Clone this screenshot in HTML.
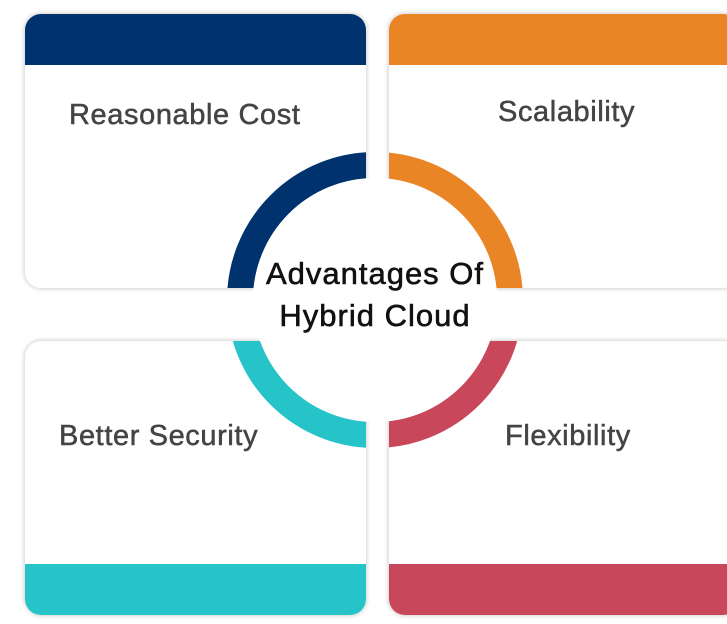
<!DOCTYPE html>
<html><head><style>
html,body{margin:0;padding:0;background:#fff;width:727px;height:624px;overflow:hidden;font-family:"Liberation Sans",sans-serif;position:relative}
.card{position:absolute;background:#fff;border-radius:16px;overflow:hidden;box-shadow:0 0 4px 1px rgba(0,0,0,0.18)}
.bar{position:absolute;left:0;right:0;height:51px}
.lbl{position:absolute;font-size:29px;color:#444;white-space:nowrap;letter-spacing:0.6px;-webkit-text-stroke:0.5px #444}
</style></head><body>
<div class="card" style="left:25px;top:14px;width:341px;height:274px"><div class="bar" style="top:0;background:#00336e"></div></div>
<div class="card" style="left:389px;top:14px;width:350px;height:274px"><div class="bar" style="top:0;background:#ea8526"></div></div>
<div class="card" style="left:25px;top:341px;width:341px;height:274px"><div class="bar" style="bottom:0;background:#26c3c8"></div></div>
<div class="card" style="left:389px;top:341px;width:350px;height:274px"><div class="bar" style="bottom:0;background:#c9475a"></div></div>
<svg width="727" height="624" style="position:absolute;left:0;top:0">
<defs>
<clipPath id="tl"><rect x="25" y="14" width="341" height="274"/></clipPath>
<clipPath id="tr"><rect x="389" y="14" width="350" height="274"/></clipPath>
<clipPath id="bl"><rect x="25" y="341" width="341" height="274"/></clipPath>
<clipPath id="br"><rect x="389" y="341" width="350" height="274"/></clipPath>
</defs>
<circle cx="375" cy="300" r="135" fill="none" stroke="#00336e" stroke-width="26" clip-path="url(#tl)"/>
<circle cx="375" cy="300" r="135" fill="none" stroke="#ea8526" stroke-width="26" clip-path="url(#tr)"/>
<circle cx="375" cy="300" r="135" fill="none" stroke="#26c3c8" stroke-width="26" clip-path="url(#bl)"/>
<circle cx="375" cy="300" r="135" fill="none" stroke="#c9475a" stroke-width="26" clip-path="url(#br)"/>
<circle cx="375" cy="300" r="122" fill="#fff"/>
<text x="375" y="284" text-anchor="middle" font-family="Liberation Sans, sans-serif" font-size="31" letter-spacing="1" fill="#111" stroke="#111" stroke-width="0.6">Advantages Of</text>
<text x="375" y="326" text-anchor="middle" font-family="Liberation Sans, sans-serif" font-size="31" letter-spacing="1" fill="#111" stroke="#111" stroke-width="0.6">Hybrid Cloud</text>
</svg>
<div class="lbl" style="left:69px;top:99px">Reasonable Cost</div>
<div class="lbl" style="left:498px;top:96px">Scalability</div>
<div class="lbl" style="left:59px;top:420px">Better Security</div>
<div class="lbl" style="left:505px;top:420px">Flexibility</div>
</body></html>
